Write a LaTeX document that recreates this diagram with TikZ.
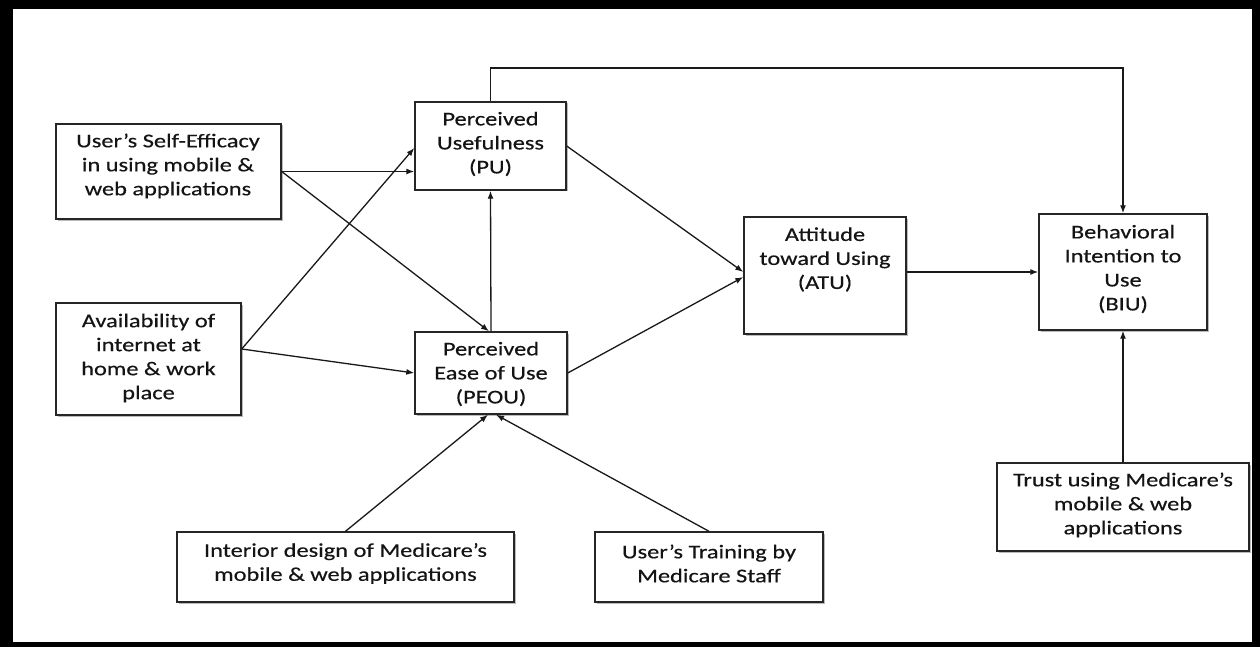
\documentclass[tikz,border=0pt]{standalone}
\usepackage{fontspec}
\setmainfont{Carlito}[FakeStretch=1.25,FakeBold=0.4]
\usetikzlibrary{arrows.meta,shadows,calc}
\begin{document}
\begin{tikzpicture}[x=1pt,y=-1pt,
  box/.style={draw=black!85,line width=1.4pt,fill=white,inner sep=0pt,
    drop shadow={shadow xshift=1.5pt,shadow yshift=-1.5pt,fill=black!45,opacity=0.6}},
  txt/.style={align=center,inner sep=0pt,font=\fontsize{19.5}{24}\selectfont,text=black!92},
  arr/.style={-{Latex[length=8pt,width=6pt]},line width=1.3pt,draw=black!90}]
\useasboundingbox (0,0) rectangle (1260,647);
\fill[black] (0,0) rectangle (1260,647);
\fill[white] (13,9) rectangle (1252,642);
% boxes
\node[box,minimum width=225pt,minimum height=95pt] (se) at (168.5,171.5) {};
\node[box,minimum width=151pt,minimum height=88pt] (pu) at (490.5,146) {};
\node[box,minimum width=152pt,minimum height=82pt] (peou) at (491,373) {};
\node[box,minimum width=162pt,minimum height=117pt] (atu) at (825,275.5) {};
\node[box,minimum width=168pt,minimum height=116pt] (biu) at (1123,272) {};
\node[box,minimum width=185pt,minimum height=112pt] (av) at (148.5,359) {};
\node[box,minimum width=337pt,minimum height=70pt] (int) at (345.5,567) {};
\node[box,minimum width=228pt,minimum height=70pt] (tr) at (709,567) {};
\node[box,minimum width=252pt,minimum height=88pt] (trust) at (1123,507) {};
% texts
\node[txt] (set) at (168,166) {User’s Self-Efficacy\\in using mobile \&\\web applications};
\node[txt] (put) at (490.5,144) {Perceived\\Usefulness\\(PU)};
\node[txt] (peout) at (491,374) {Perceived\\Ease of Use\\(PEOU)};
\node[txt] (atut) at (825,259.5) {Attitude\\toward Using\\(ATU)};
\node[txt] (biut) at (1123,269) {Behavioral\\Intention to\\Use\\(BIU)};
\node[txt] (avt) at (148.5,358) {Availability of\\internet at\\home \& work\\place};
\node[txt] (intt) at (345.5,563.5) {Interior design of Medicare’s\\mobile \& web applications};
\node[txt] (trt) at (709,563.5) {User’s Training by\\Medicare Staff};
\node[txt] (trustt) at (1123,505) {Trust using Medicare’s\\mobile \& web\\applications};
% connectors
\coordinate (topy) at (0,68);
\draw[arr] (se.east) -- (se.east -| pu.west);
\draw[arr] (se.east) -- ([xshift=-2pt]peou.north);
\draw[arr] ([yshift=10pt]av.east) -- ([yshift=-2pt]pu.west);
\draw[arr] ([yshift=10pt]av.east) -- (peou.west);
\draw[arr] (peou.north) -- (pu.south);
\draw[arr] (pu.east) -- ([yshift=3.5pt]atu.west);
\draw[arr] (peou.east) -- ([yshift=-1.5pt]atu.west);
\draw[arr] ([yshift=3.5pt]atu.east) -- ([yshift=3.5pt]atu.east -| biu.west);
\draw[arr] (pu.north) -- (pu.north |- topy) -| (biu.north);
\draw[arr] (trust.north) -- (biu.south);
\draw[arr] (int.north) -- ([xshift=-3pt]peou.south);
\draw[arr] (tr.north) -- ([xshift=5pt]peou.south);
\end{tikzpicture}
\end{document}
